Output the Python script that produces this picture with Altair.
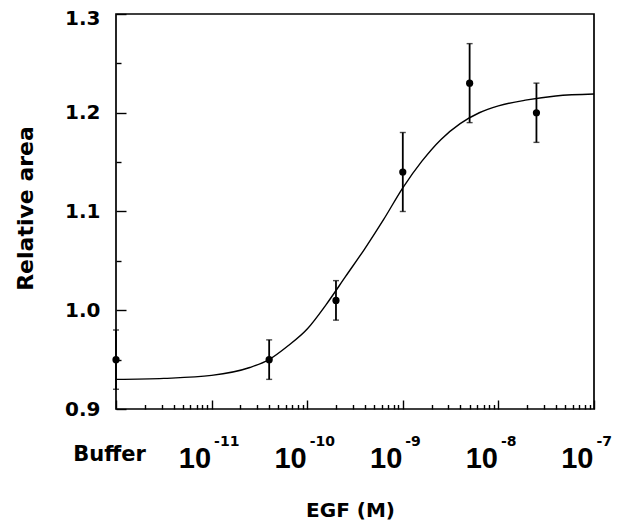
import altair as alt
import pandas as pd

# measured data (EGF concentration in M; Buffer plotted at the left edge, 1e-12)
conc = [1e-12, 4e-11, 2e-10, 1e-9, 5e-9, 2.5e-8]
area = [0.95, 0.95, 1.01, 1.14, 1.23, 1.20]
err = [0.03, 0.02, 0.02, 0.04, 0.04, 0.03]

# fitted curve (log10 concentration, relative area)
curve_exp = [-12.0, -11.5, -11.0, -10.6, -10.4, -10.2, -10.0, -9.8, -9.6, -9.4,
             -9.2, -9.0, -8.8, -8.6, -8.4, -8.2, -8.0, -7.7, -7.4, -7.0]
curve_area = [0.930, 0.931, 0.934, 0.942, 0.950, 0.964, 0.981, 1.006, 1.034, 1.062,
              1.092, 1.124, 1.151, 1.173, 1.189, 1.200, 1.207, 1.213, 1.217, 1.219]

# axis decorations
x_decades = [1e-12, 1e-11, 1e-10, 1e-9, 1e-8, 1e-7]
x_decade_labels = [1e-11, 1e-10, 1e-9, 1e-8, 1e-7]
x_buffer = [1e-12]
x_minor = [m * 10.0 ** e for e in range(-12, -7) for m in range(2, 10)]
y_major = [0.9, 1.0, 1.1, 1.2, 1.3]
y_minor = [0.95, 1.05, 1.15, 1.25]

pts = pd.DataFrame({
    "conc": conc,
    "area": area,
    "lo": [a - e for a, e in zip(area, err)],
    "hi": [a + e for a, e in zip(area, err)],
})
crv = pd.DataFrame({"conc": [10.0 ** e for e in curve_exp], "area": curve_area})

W, H = 478, 395
xs = alt.Scale(type="log", domain=[1e-12, 1e-7], nice=False)
ys = alt.Scale(domain=[0.9, 1.3], nice=False, zero=False)


def ax(**kw):
    base = dict(grid=False, domain=False, labelFlush=False, labelOverlap=False,
                labelBound=False, title=None)
    base.update(kw)
    return alt.Axis(**base)


def tick_axis(values, orient, offset, size):
    return ax(values=values, orient=orient, offset=offset, labels=False, ticks=True,
              tickSize=size, tickWidth=1.4, tickColor="black")


def label_axis(**kw):
    return ax(ticks=False, tickSize=0, labelColor="black", **kw)


# curve: "10" labels on x, numbers + title on y
curve = alt.Chart(crv).mark_line(color="black", strokeWidth=1.4,
                                 interpolate="monotone").encode(
    x=alt.X("conc:Q", scale=xs, axis=label_axis(
        values=x_decade_labels, orient="bottom", labelExpr="'10'",
        labelFont="Liberation Sans", labelFontSize=29, labelFontWeight="bold",
        labelAlign="right", labelBaseline="alphabetic", labelPadding=58,
        labelOffset=-1)),
    y=alt.Y("area:Q", scale=ys, axis=label_axis(
        values=y_major, orient="left", format=".1f",
        labelFont="DejaVu Sans", labelFontSize=20, labelFontWeight="bold",
        labelPadding=16, labelBaseline="middle",
        labelOffset={"condition": {"test": "datum.value > 1.25", "value": 4},
                     "value": 0},
        title="Relative area", titleFont="DejaVu Sans", titleFontSize=22,
        titleFontWeight="bold", titleColor="black", titleAngle=-90,
        titleX=-84, titleY=194, titleAlign="center", titleBaseline="alphabetic")),
)

# error bars: exponent labels + x title, major y ticks
bars = alt.Chart(pts).mark_rule(color="black", strokeWidth=1.8).encode(
    x=alt.X("conc:Q", scale=xs, axis=label_axis(
        values=x_decade_labels, orient="bottom",
        labelExpr="'-' + round(-log(datum.value) / LN10)",
        labelFont="DejaVu Sans", labelFontSize=14, labelFontWeight="bold",
        labelAlign="left", labelBaseline="alphabetic", labelPadding=36,
        labelOffset=2,
        title="EGF (M)", titleFont="DejaVu Sans", titleFontSize=20,
        titleFontWeight="bold", titleColor="black", titleX=234, titleY=107,
        titleAlign="center", titleBaseline="alphabetic")),
    y=alt.Y("lo:Q", scale=ys, axis=tick_axis(y_major, "right", -W, 10)),
    y2="hi:Q",
)

caps_hi = alt.Chart(pts).mark_tick(color="black", orient="horizontal", size=6,
                                   thickness=1.4).encode(
    x=alt.X("conc:Q", scale=xs, axis=tick_axis(x_decades, "top", -H, 9)),
    y=alt.Y("hi:Q", scale=ys, axis=tick_axis(y_minor, "right", -W, 5)),
)

caps_lo = alt.Chart(pts).mark_tick(color="black", orient="horizontal", size=6,
                                   thickness=1.4).encode(
    x=alt.X("conc:Q", scale=xs, axis=tick_axis(x_minor, "top", -H, 4.5)),
    y=alt.Y("lo:Q", scale=ys, axis=None),
)

dots = alt.Chart(pts).mark_circle(color="black", opacity=1, size=52).encode(
    x=alt.X("conc:Q", scale=xs, axis=label_axis(
        values=x_buffer, orient="bottom", labelExpr="'Buffer'",
        labelFont="DejaVu Sans", labelFontSize=21, labelFontWeight="bold",
        labelAlign="center", labelBaseline="alphabetic", labelPadding=51,
        labelOffset=-7)),
    y=alt.Y("area:Q", scale=ys, axis=None),
)

chart = alt.layer(curve, bars, caps_hi, caps_lo, dots).resolve_scale(
    x="shared", y="shared"
).resolve_axis(
    x="independent", y="independent"
).properties(
    width=W, height=H,
    padding={"left": 108, "top": 6, "right": 20, "bottom": 116},
    autosize=alt.AutoSizeParams(type="none"),
    background="white",
).configure_view(stroke="black", strokeWidth=1.7)

chart.save("out.html", embed_options={"renderer": "svg", "actions": False})
